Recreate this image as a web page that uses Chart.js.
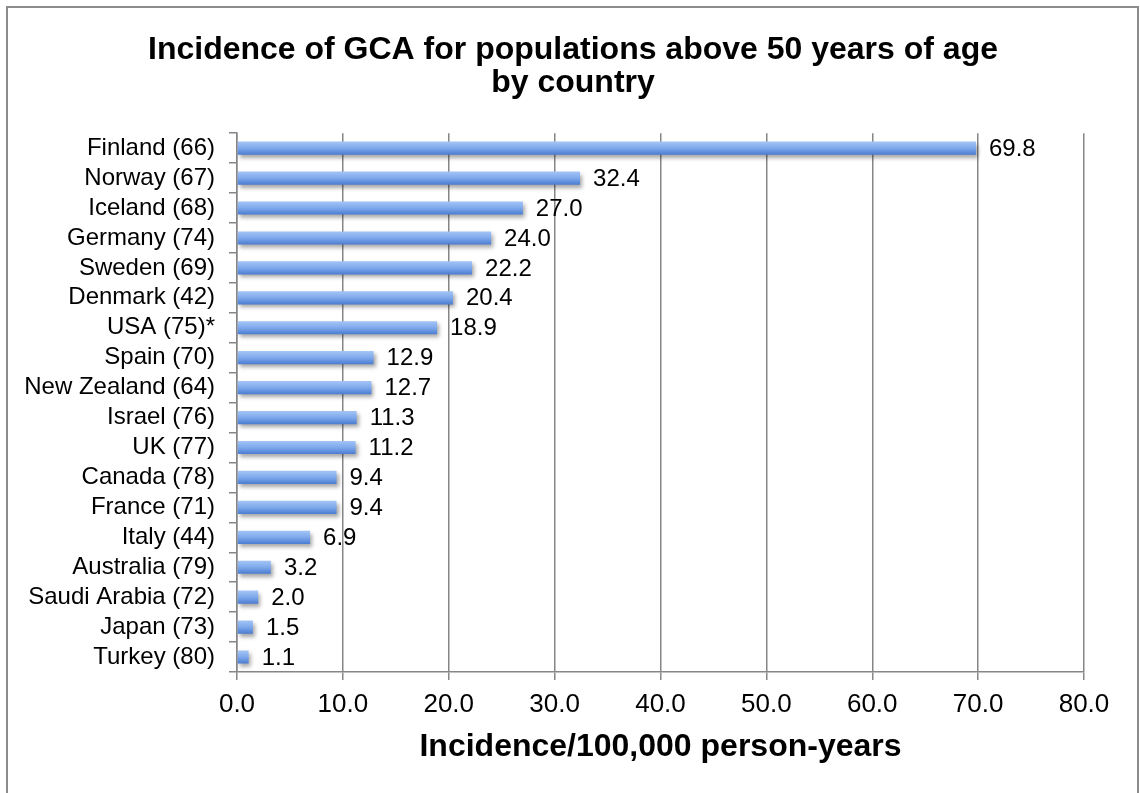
<!DOCTYPE html>
<html>
<head>
<meta charset="utf-8">
<script src="https://cdn.jsdelivr.net/npm/chart.js@4"></script>
<style>
    html, body { margin: 0; padding: 0; background: #fff; overflow: hidden; }
    #wrap { width: 1140px; height: 793px; }
</style>
</head>
<body>
<div id="wrap"><canvas id="chart" width="1140" height="793"></canvas></div>
<script>
// データ
const countries = [
    'Finland (66)', 'Norway (67)', 'Iceland (68)', 'Germany (74)', 'Sweden (69)',
    'Denmark (42)', 'USA (75)*', 'Spain (70)', 'New Zealand (64)', 'Israel (76)',
    'UK (77)', 'Canada (78)', 'France (71)', 'Italy (44)', 'Australia (79)',
    'Saudi Arabia (72)', 'Japan (73)', 'Turkey (80)'
];
const incidence = [69.8, 32.4, 27.0, 24.0, 22.2, 20.4, 18.9, 12.9, 12.7, 11.3, 11.2, 9.4, 9.4, 6.9, 3.2, 2.0, 1.5, 1.1];
const titleLines = ['Incidence of GCA for populations above 50 years of age', 'by country'];
const xTitle = 'Incidence/100,000 person-years';

const FONT = '"Liberation Sans", Arial, sans-serif';
const GRID = '#868686';

// 外枠
const framePlugin = {
    id: 'frame',
    beforeDraw(chart) {
        const ctx = chart.ctx;
        ctx.save();
        ctx.fillStyle = '#fff';
        ctx.fillRect(0, 0, chart.width, chart.height);
        ctx.strokeStyle = '#8c8c8c';
        ctx.lineWidth = 2;
        ctx.strokeRect(7, 7, 1131, 900);
        ctx.restore();
    }
};

// 棒の影と値ラベル
const barExtras = {
    id: 'barExtras',
    beforeDatasetsDraw(chart) {
        const ctx = chart.ctx;
        ctx.save();
        ctx.shadowColor = 'rgba(0,0,0,0.35)';
        ctx.shadowBlur = 4;
        ctx.shadowOffsetX = 2;
        ctx.shadowOffsetY = 3;
    },
    afterDatasetsDraw(chart) {
        const ctx = chart.ctx;
        ctx.restore();
        ctx.save();
        ctx.font = '24px ' + FONT;
        ctx.fillStyle = '#000';
        ctx.textAlign = 'left';
        ctx.textBaseline = 'middle';
        chart.getDatasetMeta(0).data.forEach((bar, i) => {
            ctx.fillText(incidence[i].toFixed(1), bar.x + 13, bar.y + 1);
        });
        ctx.restore();
    }
};

// 棒のグラデーション（上が明るく下が濃い）
function barGradient(c) {
    const yScale = c.chart.scales && c.chart.scales.y;
    if (!yScale || c.dataIndex === undefined) return '#6f9be0';
    const yc = yScale.getPixelForValue(c.dataIndex);
    if (!isFinite(yc)) return '#6f9be0';
    const g = c.chart.ctx.createLinearGradient(0, yc - 7, 0, yc + 7);
    g.addColorStop(0, '#a6c6f6');
    g.addColorStop(0.5, '#7fa9ec');
    g.addColorStop(1, '#4679cf');
    return g;
}

const ctx = document.getElementById('chart').getContext('2d');
new Chart(ctx, {
    type: 'bar',
    data: {
        labels: countries,
        datasets: [{
            data: incidence,
            backgroundColor: barGradient,
            borderWidth: 0,
            barPercentage: 0.44,
            categoryPercentage: 1.0
        }]
    },
    options: {
        indexAxis: 'y',
        responsive: false,
        animation: false,
        layout: { padding: { left: 6, right: 0, top: 0, bottom: 0 } },
        plugins: {
            legend: { display: false },
            tooltip: { enabled: false },
            title: {
                display: true,
                text: titleLines,
                color: '#000',
                font: { family: FONT, size: 32, weight: 'bold', lineHeight: 1.05 },
                padding: { top: 33, bottom: 33 }
            }
        },
        scales: {
            x: {
                min: 0,
                max: 80,
                ticks: {
                    stepSize: 10,
                    color: '#000',
                    padding: 9,
                    font: { family: FONT, size: 26 },
                    callback: (v) => Number(v).toFixed(1)
                },
                grid: { color: GRID, lineWidth: 1.5, tickLength: 8 },
                border: { color: GRID, width: 1.5 },
                title: {
                    display: true,
                    text: xTitle,
                    color: '#000',
                    font: { family: FONT, size: 32, weight: 'bold', lineHeight: 1.2 },
                    padding: { top: 0, bottom: 27 }
                },
                afterFit: (s) => { s.height = 121; }
            },
            y: {
                ticks: {
                    color: '#000',
                    padding: 14,
                    autoSkip: false,
                    font: { family: FONT, size: 24 }
                },
                grid: { drawOnChartArea: false, color: GRID, lineWidth: 1.5, tickLength: 8 },
                border: { color: GRID, width: 1.5 },
                afterFit: (s) => { s.width = 231; }
            },
            // 右側の余白を確保するための見えない軸
            yRight: {
                type: 'category',
                position: 'right',
                labels: countries,
                ticks: { display: false },
                grid: { display: false },
                border: { display: false },
                afterFit: (s) => { s.width = 56; }
            }
        }
    },
    plugins: [framePlugin, barExtras]
});
</script>
</body>
</html>
